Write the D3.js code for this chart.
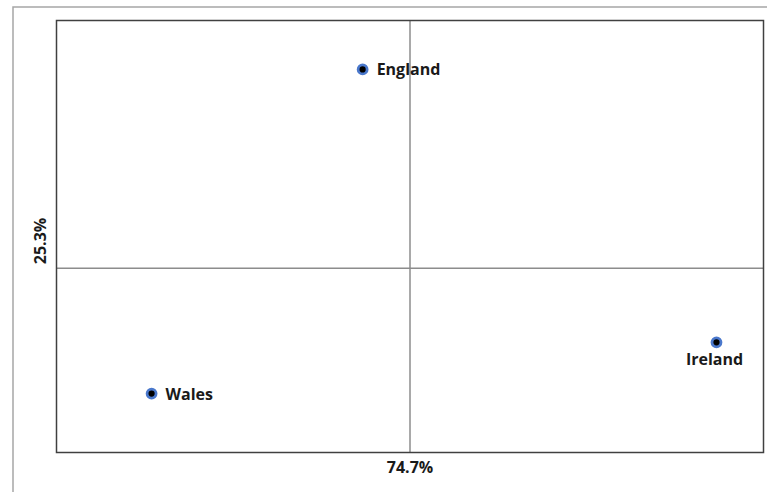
<!DOCTYPE html>
<html><head><meta charset="utf-8">
<script src="https://cdn.jsdelivr.net/npm/d3@7"></script>
<style>html,body{margin:0;padding:0;background:#fff;}svg{display:block;}</style>
</head><body>
<script>
const categories = ["England", "Wales", "Ireland"];
const dim1 = [-0.134, -0.731, 0.867];
const dim2 = [0.594, -0.374, -0.221];
const axisLabels = ["74.7%", "25.3%"];
const labelPos = ["right", "right", "below"];

const W = 767, H = 492;
const svg = d3.select("body").append("svg").attr("width", W).attr("height", H);

// outer frame
svg.append("path").attr("d", `M13,${H} V7 H${W}`).attr("fill","none").attr("stroke","#a6a6a6").attr("stroke-width",1.5);

const L = 56.5, R = 763.5, T = 20.5, B = 452.5;
const x = d3.scaleLinear().domain([-1, 1]).range([L, R]);
const y = d3.scaleLinear().domain([-0.55, 0.74]).range([B, T]);

// zero lines
svg.append("line").attr("x1", x(0)).attr("x2", x(0)).attr("y1", T).attr("y2", B).attr("stroke","#8c8c8c").attr("stroke-width",1.5);
svg.append("line").attr("x1", L).attr("x2", R).attr("y1", y(0)).attr("y2", y(0)).attr("stroke","#8c8c8c").attr("stroke-width",1.5);

// plot border
svg.append("rect").attr("x", L).attr("y", T).attr("width", R-L).attr("height", B-T).attr("fill","none").attr("stroke","#404040").attr("stroke-width",1.5);

const font = "'Open Sans', 'Liberation Sans', sans-serif";
const data = categories.map((c,i)=>({c, x:dim1[i], y:dim2[i], pos:labelPos[i]}));
const g = svg.append("g");
g.selectAll("circle").data(data).join("circle")
  .attr("cx", d=>x(d.x)).attr("cy", d=>y(d.y)).attr("r", 4.5)
  .attr("fill","#000").attr("stroke","#4a78cc").attr("stroke-width",2.8);
g.selectAll("text").data(data).join("text")
  .attr("x", d=> d.pos==="right" ? x(d.x)+14 : x(d.x)-2)
  .attr("y", d=> d.pos==="right" ? y(d.y)+6 : y(d.y)+23)
  .attr("text-anchor", d=> d.pos==="right" ? "start" : "middle")
  .attr("font-family", font).attr("font-weight","bold").attr("font-size", 16).attr("fill","#1a1a1a")
  .text(d=>d.c);

svg.append("text").attr("x", x(0)).attr("y", 473).attr("text-anchor","middle")
  .attr("font-family", font).attr("font-weight","bold").attr("font-size",16).attr("fill","#1a1a1a").text(axisLabels[0]);
svg.append("text").attr("transform", `translate(46,241) rotate(-90)`).attr("text-anchor","middle")
  .attr("font-family", font).attr("font-weight","bold").attr("font-size",16).attr("fill","#1a1a1a").text(axisLabels[1]);
</script>
</body></html>
